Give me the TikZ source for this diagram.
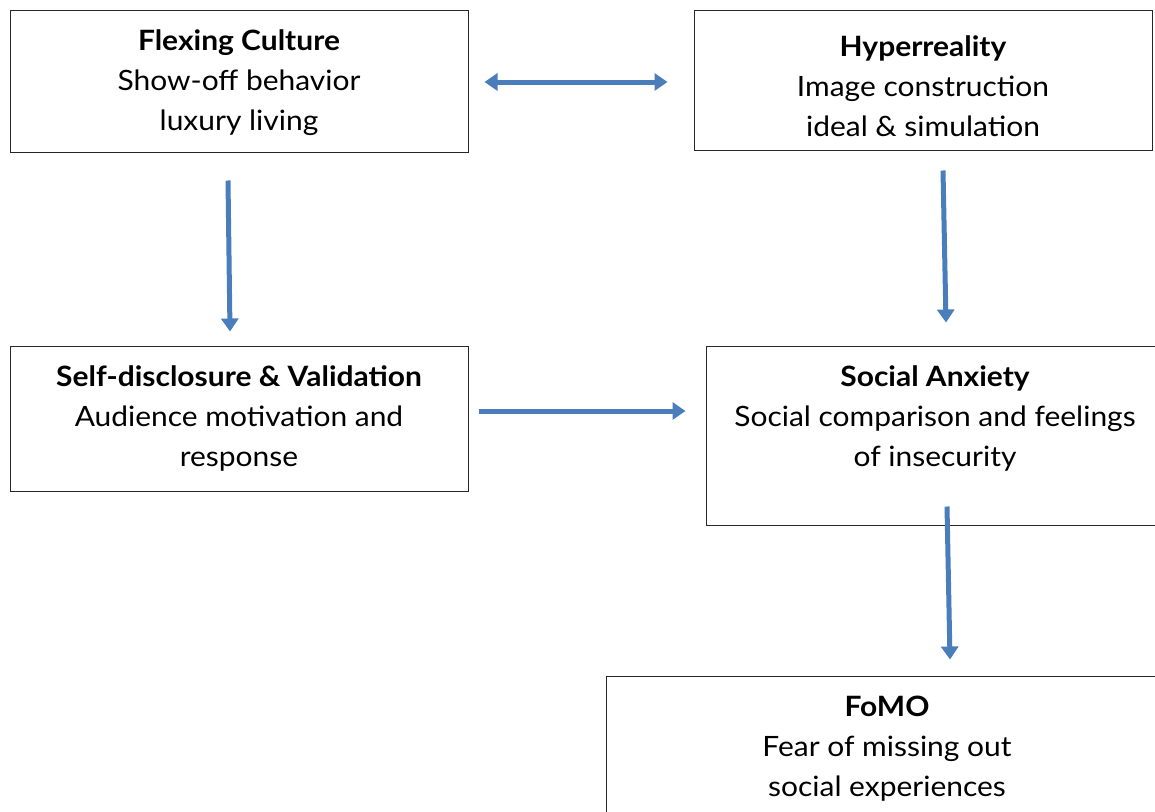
\documentclass[tikz,border=0pt]{standalone}
\usepackage{fontspec}
\setmainfont{Lato}[FakeStretch=1.07]
\usetikzlibrary{arrows.meta}
\definecolor{flowblue}{HTML}{4A7EBB}
\tikzset{
  every picture/.style={font={\fontsize{28}{40}\selectfont}, >={Triangle[width=17pt,length=13pt]}}}

\begin{document}
\begin{tikzpicture}[x=1pt, y=-1pt]
    \tikzstyle{box}=[draw=black!85, line width=1pt, inner sep=0pt]
    \tikzstyle{txt}=[align=center, inner sep=0pt]
    \tikzstyle{flow}=[flowblue, line width=5pt]

    \useasboundingbox (0,0) rectangle (1155,811);
    \clip (0,0) rectangle (1155,811);

    % boxes
    \node[box, minimum width=458, minimum height=142] (flex)  at (239, 81)    {};
    \node[box, minimum width=458, minimum height=140] (hyper) at (923, 80)    {};
    \node[box, minimum width=458, minimum height=145] (self)  at (239, 418.5) {};
    \node[box, minimum width=458, minimum height=179] (sa)    at (935, 435.5) {};
    \node[box, minimum width=562, minimum height=184] (fomo)  at (887, 768)   {};

    % texts
    \node[txt] (flextxt)  at ([shift={(0,73)}]flex.north)
      {\textbf{Flexing Culture}\\Show-off behavior\\luxury living};
    \node[txt] (hypertxt) at ([shift={(0,77)}]hyper.north)
      {\textbf{Hyperreality}\\Image construction\\ideal \& simulation};
    \node[txt] (selftxt)  at ([shift={(0,73)}]self.north)
      {\textbf{Self-disclosure \& Validation}\\Audience motivation and\\response};
    \node[txt] (satxt)    at ([shift={(0,73)}]sa.north)
      {\textbf{Social Anxiety}\\Social comparison and feelings\\of insecurity};
    \node[txt] (fomotxt)  at ([shift={(0,73)}]fomo.north)
      {\textbf{FoMO}\\Fear of missing out\\social experiences};

    % arrows
    \draw[flow, <->] ([shift={(16,1)}]flex.east)    -- ([shift={(-26,2)}]hyper.west);
    \draw[flow, ->]  ([shift={(-11,28)}]flex.south) -- ([shift={(-9,-14)}]self.north);
    \draw[flow, ->]  ([shift={(20,20)}]hyper.south) -- ([shift={(11,-23)}]sa.north);
    \draw[flow, ->]  ([shift={(10,-7.5)}]self.east) -- ([shift={(-20,-24.5)}]sa.west);
    \draw[flow, ->]  ([shift={(12,-19)}]sa.south)   -- ([shift={(63,-16)}]fomo.north);
\end{tikzpicture}
\end{document}
